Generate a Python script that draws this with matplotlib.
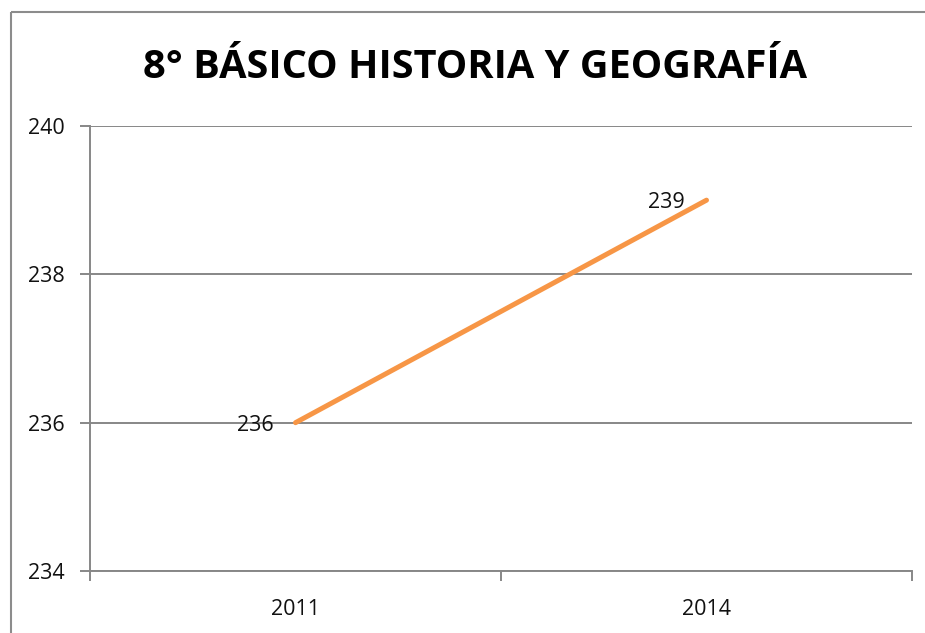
import matplotlib.pyplot as plt
from matplotlib.lines import Line2D

# chart data
years = ["2011", "2014"]
scores = [236, 239]
y_ticks = [234, 236, 238, 240]
title = "8° BÁSICO HISTORIA Y GEOGRAFÍA"

plt.rcParams["font.family"] = ["Open Sans", "DejaVu Sans"]

fig = plt.figure(figsize=(9.25, 6.33), dpi=100)
ax = fig.add_axes([90 / 925, 1 - 571 / 633, (912 - 90) / 925, (571 - 126) / 633])

x = list(range(len(years)))
ax.plot(x, scores, color="#F79646", linewidth=3.6, solid_capstyle="round")

for xi, v in zip(x, scores):
    ax.annotate(str(v), (xi, v), xytext=(-16, -2), textcoords="offset points",
                ha="right", va="center", fontsize=15.5, color="#111111")

ax.set_ylim(y_ticks[0], y_ticks[-1])
ax.set_yticks(y_ticks)
ax.set_xlim(-0.5, len(years) - 0.5)
ax.set_xticks(x)
ax.set_xticklabels(years)
ax.set_xticks([i - 0.5 for i in range(len(years) + 1)], minor=True)

ax.grid(axis="y", color="#878787", linewidth=1.4)
ax.set_axisbelow(True)
for side in ["top", "right"]:
    ax.spines[side].set_visible(False)
for side in ["left", "bottom"]:
    ax.spines[side].set_color("#878787")
    ax.spines[side].set_linewidth(1.4)

ax.tick_params(axis="y", length=7, width=1.4, color="#878787", labelsize=15.5,
               labelcolor="#111111", pad=11)
ax.tick_params(axis="x", which="major", length=0, labelsize=15.5,
               labelcolor="#111111", pad=20)
ax.tick_params(axis="x", which="minor", length=7, width=1.4, color="#878787")

fig.text(475 / 925, 1 - 68 / 633, title, ha="center", va="center",
         fontsize=28.6, fontweight="bold", color="black")

# chart area border (left and top edges visible)
fig.add_artist(Line2D([11 / 925, 11 / 925], [0, 1 - 12 / 633],
                      color="#8c8c8c", linewidth=1.5, transform=fig.transFigure,
                      solid_capstyle="butt"))
fig.add_artist(Line2D([11 / 925, 1.0], [1 - 12 / 633, 1 - 12 / 633],
                      color="#8c8c8c", linewidth=1.5, transform=fig.transFigure,
                      solid_capstyle="butt"))

fig.savefig("out.png", dpi=100)
